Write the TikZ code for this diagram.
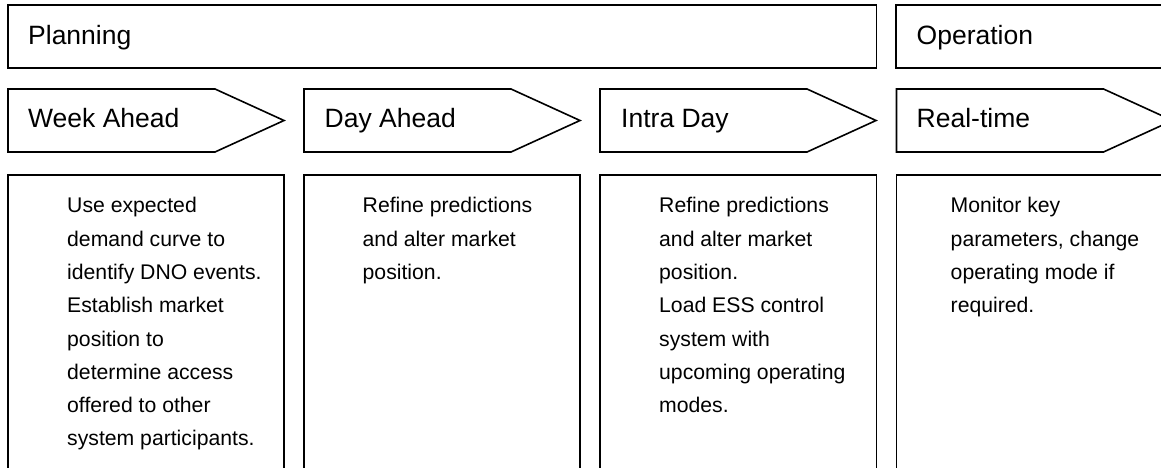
\documentclass[tikz,border=0pt]{standalone}
\usepackage{fontspec}
\setmainfont{Liberation Sans}
\begin{document}
\begin{tikzpicture}[x=1pt,y=-1pt,
  frame/.style={draw=black,line width=1.6pt,line join=miter},
  head/.style={anchor=base west,inner sep=0pt,font=\fontsize{26.5}{30}\selectfont},
  body/.style={anchor=base west,inner sep=0pt,align=left,font=\fontsize{21.2}{33.3}\selectfont}]
\useasboundingbox (0,0) rectangle (1161,468);
\clip (0,0) rectangle (1161,468);

% phase bars
\draw[frame] (8,5) rectangle (876.5,68);
\draw[frame] (896,5) rectangle (1200,68);
\node[head] (planning) at (28,45) {Planning};
\node[head] (operation) at (916.5,45) {Operation};

% chevrons: flat part 207, point 69
\foreach \x in {8,304,600,896.5}{
  \draw[frame] (\x,89) -- ({\x+207},89) -- ({\x+276},120.5) -- ({\x+207},152) -- (\x,152) -- cycle;
}
\node[head] (week) at (28,127.5) {Week Ahead};
\node[head] (day) at (324.5,127.5) {Day Ahead};
\node[head] (intra) at (621,127.5) {Intra Day};
\node[head] (real) at (916.5,127.5) {Real-time};

% activity columns, open at the bottom
\draw[frame] (8,490) -- (8,175) -- (284,175) -- (284,490);
\draw[frame] (304,490) -- (304,175) -- (580,175) -- (580,490);
\draw[frame] (600,490) -- (600,175) -- (876.5,175) -- (876.5,490);
\draw[frame] (896.5,490) -- (896.5,175) -- (1200,175);

% body texts: anchored at the baseline of their last line (first line at 212.8, step 33.3)
\node[body] (weektxt) at (67,445.9) {Use expected\\demand curve to\\identify DNO events.\\Establish market\\position to\\determine access\\offered to other\\system participants.};
\node[body] (daytxt) at (362.5,279.4) {Refine predictions\\and alter market\\position.};
\node[body] (intratxt) at (659,412.6) {Refine predictions\\and alter market\\position.\\Load ESS control\\system with\\upcoming operating\\modes.};
\node[body] (realtxt) at (950.5,312.7) {Monitor key\\parameters, change\\operating mode if\\required.};
\end{tikzpicture}
\end{document}
